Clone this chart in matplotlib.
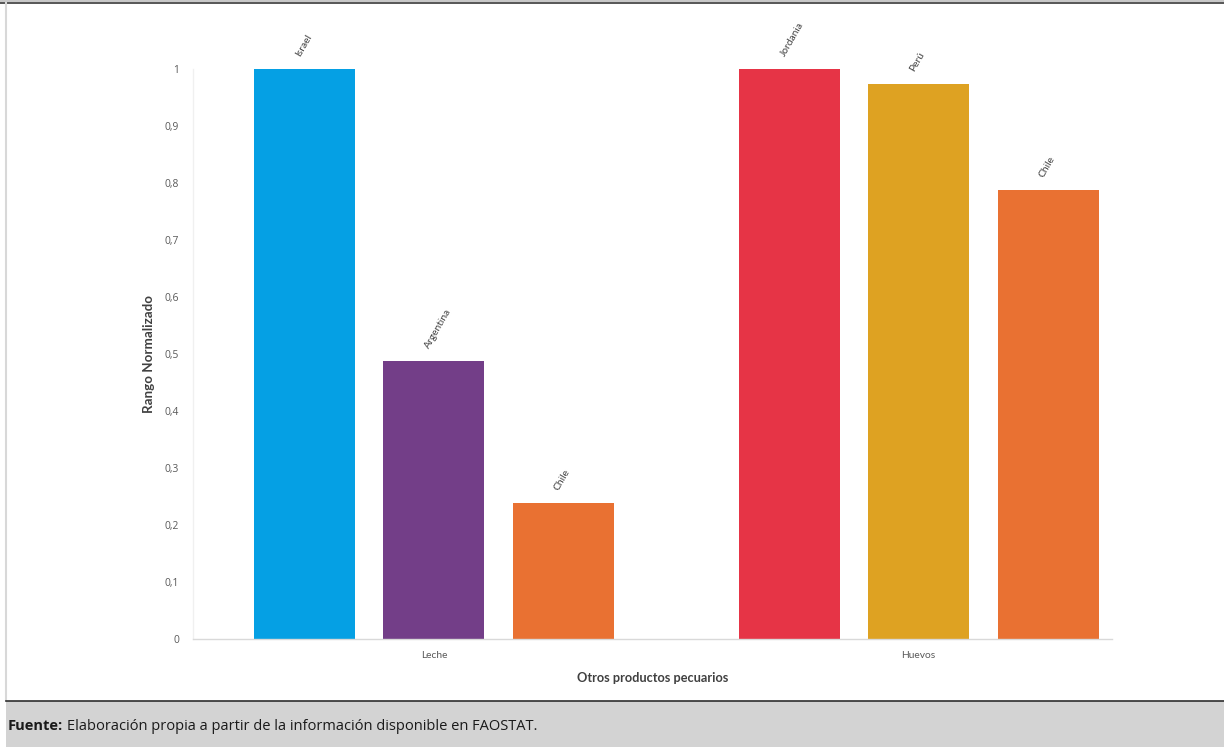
import matplotlib
matplotlib.use("Agg")
import matplotlib.pyplot as plt
from matplotlib.patches import Rectangle
from matplotlib.lines import Line2D

# Data
categories = ["Leche", "Huevos"]
leche_countries = ["Israel", "Argentina", "Chile"]
leche_values = [1.0, 0.488, 0.239]
huevos_countries = ["Jordania", "Perú", "Chile"]
huevos_values = [1.0, 0.974, 0.788]
leche_colors = ["#05a0e4", "#733e88", "#e97132"]
huevos_colors = ["#e63446", "#dea222", "#e97132"]
y_ticks = [i / 10 for i in range(11)]
y_tick_labels = ["0", "0,1", "0,2", "0,3", "0,4", "0,5", "0,6", "0,7", "0,8", "0,9", "1"]

plt.rcParams["font.family"] = ["Lato", "DejaVu Sans"]

W, H = 1224, 747
fig = plt.figure(figsize=(W / 100, H / 100), dpi=100)

# Page frame: top rule, left rule and grey source band
fig.add_artist(Rectangle((0, 1 - 2 / H), 1, 2 / H, transform=fig.transFigure,
                         facecolor="#c8c8c8", edgecolor="none"))
fig.add_artist(Line2D([0, 1], [1 - 3 / H, 1 - 3 / H], transform=fig.transFigure,
                      color="#3a3a3a", lw=1.2))
fig.add_artist(Line2D([5.5 / W, 5.5 / W], [1 - 3 / H, 1 - 700 / H], transform=fig.transFigure,
                      color="#d8d8d8", lw=1.5))
fig.add_artist(Rectangle((6 / W, 0), 1 - 6 / W, 1 - 701 / H, transform=fig.transFigure,
                         facecolor="#d3d3d3", edgecolor="none"))
fig.add_artist(Line2D([6 / W, 1], [1 - 700.5 / H, 1 - 700.5 / H], transform=fig.transFigure,
                      color="#2e2e2e", lw=1.2))

foot_font = ["Open Sans", "DejaVu Sans"]
src_label = fig.text(8 / W, 1 - 726 / H, "Fuente:", fontsize=10.5, fontweight="bold",
                     family=foot_font, color="#1a1a1a", va="center", ha="left")
fig.canvas.draw()
label_end = src_label.get_window_extent().x1
fig.text((label_end + 4) / W, 1 - 726 / H,
         "Elaboración propia a partir de la información disponible en FAOSTAT.",
         fontsize=10.5, family=foot_font, color="#1a1a1a", va="center", ha="left")

# Chart area
left_px, right_px, top_px, bottom_px = 193, 1112, 69, 639
ax = fig.add_axes([left_px / W, 1 - bottom_px / H,
                   (right_px - left_px) / W, (bottom_px - top_px) / H])

bar_w = 0.2085
offset = 0.2673
group_pos = [0, 1]
for gx, names, vals, cols in [
    (group_pos[0], leche_countries, leche_values, leche_colors),
    (group_pos[1], huevos_countries, huevos_values, huevos_colors),
]:
    for i, (n, v, c) in enumerate(zip(names, vals, cols)):
        x = gx + (i - 1) * offset
        ax.bar(x, v, width=bar_w, color=c, edgecolor="none", zorder=2)
        ax.annotate(n, (x, v), xytext=(-2, 8), textcoords="offset points",
                    rotation=60, rotation_mode="anchor", ha="left", va="bottom",
                    fontsize=7.4, color="#404040", annotation_clip=False)

ax.set_xlim(-0.497, 1.399)
ax.set_ylim(0, 1)
ax.set_yticks(y_ticks)
ax.set_yticklabels(y_tick_labels, family=["Open Sans", "DejaVu Sans"])
ax.set_xticks(group_pos)
ax.set_xticklabels(categories)
ax.tick_params(axis="both", length=0, labelsize=7.4, labelcolor="#595959")
ax.tick_params(axis="y", pad=10)
ax.tick_params(axis="x", pad=9)

for s in ["top", "right"]:
    ax.spines[s].set_visible(False)
ax.spines["left"].set_color("#f0f0f0")
ax.spines["bottom"].set_color("#d9d9d9")
ax.spines["left"].set_linewidth(1.0)
ax.spines["bottom"].set_linewidth(1.0)

ax.set_ylabel("Rango Normalizado", fontsize=9.6, fontweight="bold", color="#404040", labelpad=7)
ax.set_xlabel("Otros productos pecuarios", fontsize=9.2, fontweight="bold", color="#404040", labelpad=8)

fig.savefig("out.png", dpi=100, facecolor="white")
